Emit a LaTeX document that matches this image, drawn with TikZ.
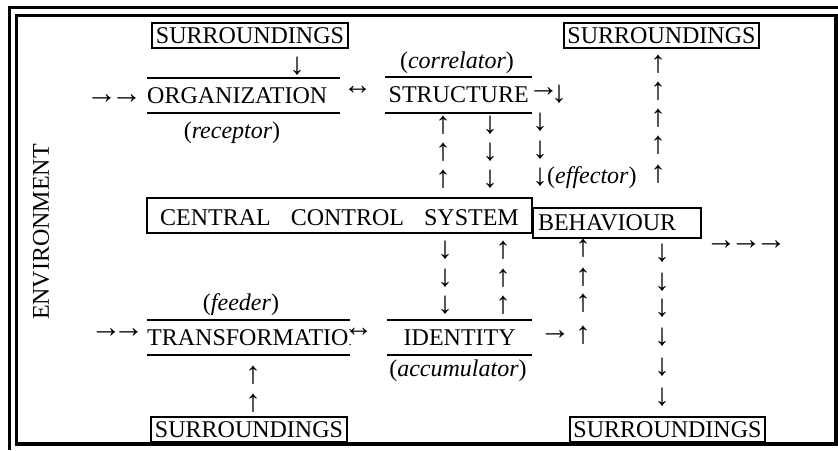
\documentclass[tikz,border=0pt]{standalone}
\usepackage{fontspec}
\setmainfont{Liberation Serif}

\tikzset{
  txt/.style={font=\fontsize{24}{28}\selectfont, inner sep=0pt},
  surr/.style={txt, draw, line width=2pt, inner xsep=3.5pt, inner ysep=4.6pt, text height=15.9pt, text depth=0pt},
  slab/.style={txt, text width=#1, inner xsep=0pt, inner ysep=9.6pt, text height=15.9pt, text depth=0pt},
  bar/.style={line width=2.2pt},
  glyph/.style={font=\fontsize{31}{31}\selectfont, inner sep=0pt},
  small/.style={font=\fontsize{29}{29}\selectfont, inner sep=0pt}
}

\begin{document}
\begin{tikzpicture}[x=1pt, y=-1pt]
  \useasboundingbox (0,0) rectangle (838,450);

  % Draw the double frame
  \draw[line width=3.5pt] (9.5,450) -- (9.5,7.5) -- (838,7.5);
  \draw[line width=3.5pt] (16.5,15.5) rectangle (836,444);

  % Draw the environment label
  \node[txt, rotate=90] (env) at (41,232) {ENVIRONMENT};

  % Draw the surroundings
  \node[surr] (surrTL) at (250,35.5) {SURROUNDINGS};
  \node[surr] (surrTR) at (661.5,35.5) {SURROUNDINGS};
  \node[surr] (surrBL) at (249,429.5) {SURROUNDINGS};
  \node[surr] (surrBR) at (667.5,429.5) {SURROUNDINGS};

  % Draw the four subsystems between bars
  \node[slab=193pt, align=left, anchor=west] (org) at (147,95.5) {ORGANIZATION};
  \node[slab=147pt, align=center, anchor=west] (struct) at (385,95) {STRUCTURE};
  \begin{scope}
    \clip (147,300) rectangle (350,370);
    \node[slab=203pt, align=left, anchor=west] (trans) at (147,337.5) {\mbox{TRANSFORMATION}};
  \end{scope}
  \node[slab=145pt, align=center, anchor=west] (ident) at (387,337.5) {IDENTITY};
  \foreach \n in {org,struct,trans,ident} {
    \draw[bar] (\n.north west) -- (\n.north east);
    \draw[bar] (\n.south west) -- (\n.south east);
  }

  % Draw the roles
  \node[txt] (rec) at (232,133) {(\textit{receptor})};
  \node[txt] (cor) at (457,63) {(\textit{correlator})};
  \node[txt] (feed) at (241,305) {(\textit{feeder})};
  \node[txt] (acc) at (458,371) {(\textit{accumulator})};
  \node[txt, anchor=west] (eff) at (547,178) {(\textit{effector})};

  % Draw the central control system and behaviour
  \node[txt, draw, line width=2pt, minimum width=385pt, minimum height=35pt, text height=20.9pt, text depth=0pt] (ccs) at (339.5,215.5) {CENTRAL\hspace{20pt}CONTROL\hspace{20pt}SYSTEM};
  \node[txt, draw, line width=2pt, anchor=west, text width=158pt, align=left, inner xsep=5pt, minimum height=30pt, text height=15.9pt, text depth=0pt] (beh) at (532,223) {BEHAVIOUR};

  % Draw the arrows on the left
  \node[glyph] (inA) at (101.5,99) {→};
  \node[glyph] (inB) at (126.5,99) {→};
  \node[glyph] (inC) at (106,333) {→};
  \node[glyph] (inD) at (128.5,333) {→};
  \node[glyph] (sd) at (297,66) {↓};
  \node[glyph] (su1) at (253,375) {↑};
  \node[glyph] (su2) at (253,403) {↑};
  \node[small] (lrA) at (357.5,90) {↔};
  \node[small] (lrB) at (358.5,332) {↔};

  % Draw the arrows between structure and central control
  \foreach \y [count=\i] in {125,152,179} {
    \node[glyph] (up\i) at (443,\y) {↑};
    \node[glyph] (dn\i) at (490,\y) {↓};
  }
  \node[glyph] (sr) at (543.5,92) {→};
  \node[glyph] (sr2) at (559,94) {↓};
  \foreach \y [count=\i] in {122,150,177} {
    \node[glyph] (ed\i) at (540,\y) {↓};
  }
  \foreach \y [count=\i] in {64,91,118,145,174} {
    \node[glyph] (tu\i) at (658,\y) {↑};
  }

  % Draw the arrows between central control and identity
  \foreach \y [count=\i] in {250,278,305} {
    \node[glyph] (cd\i) at (445,\y) {↓};
    \node[glyph] (cu\i) at (503,\y) {↑};
  }
  \node[glyph] (ir) at (555,335) {→};
  \foreach \y [count=\i] in {248,277,303,335} {
    \node[glyph] (bu\i) at (583,\y) {↑};
  }
  \foreach \y [count=\i] in {253,282,308,337,367,397} {
    \node[glyph] (bd\i) at (662,\y) {↓};
  }

  % Draw the output arrows
  \node[glyph] (outA) at (721,245) {→};
  \node[glyph] (outB) at (746,245) {→};
  \node[glyph] (outC) at (771,245) {→};
\end{tikzpicture}
\end{document}
